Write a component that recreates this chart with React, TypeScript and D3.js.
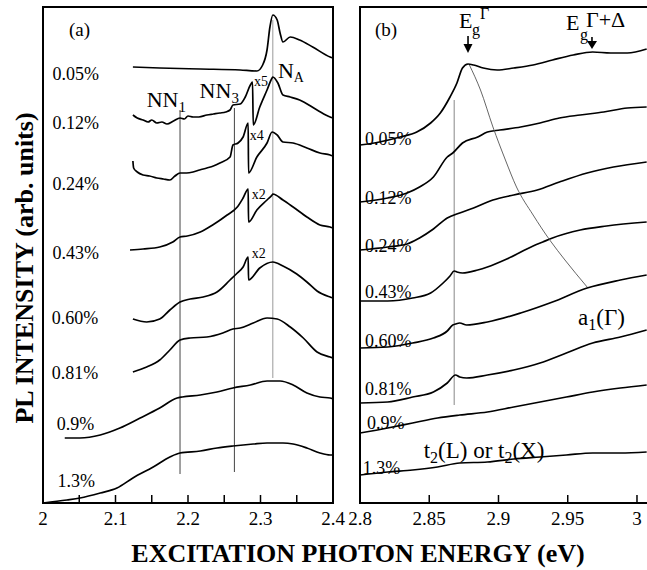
import React from 'react';
import * as d3 from 'd3';

const W = 647;
const H = 570;
const FONT = '"Liberation Serif", "Times New Roman", serif';

type Pt = [number, number];

// ---------- Panel (a): 2.0 - 2.4 eV ----------
const ticksA = [2.05, 2.1, 2.15, 2.2, 2.25, 2.3, 2.35];
const tickLabelsA = [2, 2.1, 2.2, 2.3, 2.4];
const labelsA = ['0.05%', '0.12%', '0.24%', '0.43%', '0.60%', '0.81%', '0.9%', '1.3%'];

const a005: Pt[] = [[2.124,436],[2.161,435],[2.217,434],[2.272,433],[2.295,432],[2.303,438],[2.309,453],[2.313,476],[2.317,488],[2.323,483],[2.327,470],[2.331,461],[2.341,466],[2.354,463],[2.372,456],[2.396,446],[2.400,445]];
const a012: Pt[] = [[2.124,388],[2.130,385],[2.138,383],[2.145,381],[2.150,383],[2.157,380],[2.164,381],[2.171,379],[2.180,382],[2.189,385],[2.195,384],[2.200,387],[2.207,386],[2.215,386],[2.226,388],[2.235,389],[2.244,390],[2.252,391],[2.258,393],[2.262,398],[2.272,399],[2.279,406],[2.286,418],[2.289,421],[2.290,378],[2.299,396],[2.309,413],[2.316,425],[2.317,426],[2.324,420],[2.331,408],[2.341,406],[2.354,403],[2.378,393],[2.396,386],[2.400,385]];
const a024: Pt[] = [[2.124,342],[2.125,335],[2.130,331],[2.138,328],[2.147,327],[2.157,325],[2.166,324],[2.175,323],[2.182,327],[2.189,330],[2.198,330],[2.207,331],[2.216,333],[2.226,335],[2.235,337],[2.244,340],[2.258,346],[2.262,358],[2.269,360],[2.276,366],[2.283,380],[2.2835,330],[2.295,346],[2.309,360],[2.316,371],[2.323,368],[2.331,361],[2.345,360],[2.364,355],[2.382,350],[2.396,348],[2.400,347]];
const a043: Pt[] = [[2.120,253],[2.138,254],[2.161,256],[2.179,261],[2.189,266],[2.199,267],[2.217,271],[2.234,278],[2.254,288],[2.268,296],[2.276,305],[2.283,314],[2.2835,281],[2.295,293],[2.309,303],[2.316,308],[2.317,309],[2.331,303],[2.345,296],[2.364,286],[2.382,278],[2.396,276],[2.400,275]];
const a060: Pt[] = [[2.124,184],[2.143,181],[2.161,184],[2.175,193],[2.189,201],[2.203,204],[2.221,206],[2.240,211],[2.258,223],[2.268,230],[2.276,236],[2.283,246],[2.2835,223],[2.299,235],[2.317,241],[2.331,237],[2.350,229],[2.364,221],[2.378,212],[2.396,206],[2.400,205]];
const a081: Pt[] = [[2.124,131],[2.143,136],[2.161,143],[2.175,153],[2.189,163],[2.203,165],[2.226,166],[2.248,170],[2.262,174],[2.272,175],[2.290,180],[2.309,185],[2.323,184],[2.341,176],[2.359,165],[2.378,151],[2.396,146],[2.400,145]];
const a09: Pt[] = [[2.030,65],[2.051,65],[2.079,68],[2.106,75],[2.134,85],[2.161,95],[2.185,105],[2.192,106],[2.217,108],[2.240,111],[2.262,115],[2.286,118],[2.309,122],[2.327,122],[2.345,118],[2.364,110],[2.382,106],[2.396,105],[2.400,104]];
const a13: Pt[] = [[2.000,0],[2.033,3],[2.051,5],[2.079,10],[2.102,15],[2.124,25],[2.152,36],[2.175,46],[2.189,50],[2.217,52],[2.240,55],[2.262,57],[2.290,59],[2.309,60],[2.331,60],[2.345,59],[2.364,55],[2.382,50],[2.396,48],[2.400,48]];
const seriesA = [a005, a012, a024, a043, a060, a081, a09, a13];
// label anchor: [energy, intensity]
const labelPosA: Pt[] = [[2.013,429],[2.013,380],[2.013,319],[2.013,250],[2.012,185],[2.012,130],[2.019,79],[2.020,22]];

// ---------- Panel (b): 2.8 - 3.0 eV ----------
const ticksB = [2.85, 2.9, 2.95, 3.0];
const tickLabelsB = ['2.8', '2.85', '2.9', '2.95', '3'];
const tickLabelValsB = [2.8, 2.85, 2.9, 2.95, 3.0];
const labelsB = ['0.05%', '0.12%', '0.24%', '0.43%', '0.60%', '0.81%', '0.9%', '1.3%'];

const b005: Pt[] = [[2.800,358],[2.814,361],[2.829,366],[2.841,371],[2.851,380],[2.858,390],[2.865,406],[2.870,420],[2.874,435],[2.878,439],[2.882,438],[2.889,435],[2.899,433],[2.911,435],[2.925,438],[2.939,443],[2.954,448],[2.968,451],[2.981,450],[2.993,450],[3.007,454]];
const b012: Pt[] = [[2.800,301],[2.820,305],[2.834,310],[2.843,316],[2.853,326],[2.863,346],[2.867,350],[2.874,360],[2.885,366],[2.892,371],[2.901,373],[2.916,376],[2.930,380],[2.944,385],[2.959,388],[2.976,391],[2.993,395],[3.007,396]];
const b024: Pt[] = [[2.800,253],[2.820,256],[2.834,259],[2.843,265],[2.853,274],[2.863,285],[2.872,290],[2.882,295],[2.896,303],[2.911,308],[2.928,313],[2.944,321],[2.964,330],[2.983,336],[3.007,341]];
const b043: Pt[] = [[2.800,202],[2.820,202],[2.838,205],[2.851,210],[2.860,220],[2.865,227],[2.868,232],[2.870,231],[2.874,230],[2.885,233],[2.892,236],[2.906,244],[2.925,257],[2.932,261],[2.939,265],[2.959,273],[2.978,277],[3.007,281]];
const b060: Pt[] = [[2.800,155],[2.820,156],[2.838,160],[2.853,165],[2.863,172],[2.867,178],[2.869,179],[2.872,180],[2.877,178],[2.892,181],[2.916,190],[2.939,201],[2.964,215],[2.988,223],[3.007,228]];
const b081: Pt[] = [[2.800,100],[2.820,101],[2.838,106],[2.853,111],[2.863,120],[2.869,128],[2.872,126],[2.877,125],[2.892,128],[2.911,133],[2.930,140],[2.949,150],[2.968,160],[2.988,166],[3.007,173]];
const b09: Pt[] = [[2.800,70],[2.820,75],[2.838,80],[2.856,85],[2.872,88],[2.892,91],[2.911,96],[2.930,101],[2.949,106],[2.968,111],[2.988,115],[3.007,118]];
const b13: Pt[] = [[2.800,28],[2.820,31],[2.838,33],[2.856,36],[2.872,40],[2.892,41],[2.911,44],[2.930,46],[2.949,48],[2.968,50],[2.988,50],[3.007,51]];
const seriesB = [b005, b012, b024, b043, b060, b081, b09, b13];
const labelPosB: Pt[] = [[2.8036,364],[2.8036,305],[2.8036,257],[2.8036,211],[2.8036,162],[2.8036,114],[2.805,80],[2.802,35]];

// a1(Gamma) trace
const a1Trace: Pt[] = [[2.879,438],[2.887,413],[2.896,376],[2.905,343],[2.913,316],[2.925,288],[2.937,263],[2.948,243],[2.964,216]];

// vertical guide lines: [energy, intensity top, intensity bottom, colour]
const guidesA: [number, number, number, string][] = [[2.189,393,29,'#444'],[2.264,395,31,'#444'],[2.317,483,125,'#999']];
const guidesB: [number, number, number, string][] = [[2.868,403,98,'#888']];

const xA = d3.scaleLinear().domain([2.0, 2.4]).range([43, 333]);
const xB = d3.scaleLinear().domain([2.8, 3.0094]).range([360, 650]);
const y = d3.scaleLinear().domain([0, 496]).range([503, 7]);

function Panel({ x, series, labels, labelPos, ticks, tickVals, tickText, guides }: any) {
  const line = d3.line<Pt>().x(d => x(d[0])).y(d => y(d[1])).curve(d3.curveMonotoneX);
  const [x0, x1] = x.range();
  return (
    <g>
      {guides.map((g: any, i: number) => (
        <line key={'g' + i} x1={x(g[0])} x2={x(g[0])} y1={y(g[1])} y2={y(g[2])} stroke={g[3]} strokeWidth={1} />
      ))}
      {series.map((s: Pt[], i: number) => (
        <path key={'s' + i} d={line(s) || ''} fill="none" stroke="#000" strokeWidth={1.7} />
      ))}
      {labels.map((l: string, i: number) => (
        <text key={'l' + i} x={x(labelPos[i][0])} y={y(labelPos[i][1])} dy="0.35em" fontSize={18} fontFamily={FONT}>{l}</text>
      ))}
      <rect x={x0} y={y(496)} width={x1 - x0} height={y(0) - y(496)} fill="none" stroke="#000" strokeWidth={2} />
      {ticks.map((t: number, i: number) => (
        <line key={'t' + i} x1={x(t)} x2={x(t)} y1={y(0)} y2={y(0) - 8} stroke="#000" strokeWidth={1.5} />
      ))}
      {tickVals.map((t: number, i: number) => (
        <text key={'tl' + i} x={x(t)} y={y(0) + 22} textAnchor="middle" fontSize={19} fontFamily={FONT}>{tickText[i]}</text>
      ))}
    </g>
  );
}

export default function App() {
  const lineA1 = d3.line<Pt>().x(d => xB(d[0])).y(d => y(d[1])).curve(d3.curveMonotoneX);
  const egX = xB(2.878);
  const egdX = xB(2.9675);
  return (
    <svg width={W} height={H} style={{ display: 'block', position: 'absolute', left: 0, top: 0, background: '#fff' }}>
      <rect width={W} height={H} fill="#fff" />
      <Panel x={xA} series={seriesA} labels={labelsA} labelPos={labelPosA} ticks={ticksA}
        tickVals={tickLabelsA} tickText={tickLabelsA.map(String)} guides={guidesA} />
      <Panel x={xB} series={seriesB} labels={labelsB} labelPos={labelPosB} ticks={ticksB}
        tickVals={tickLabelValsB} tickText={tickLabelsB} guides={guidesB} />
      <path d={lineA1(a1Trace) || ''} fill="none" stroke="#555" strokeWidth={0.9} />

      {/* panel tags */}
      <text x={69} y={36} fontSize={19} fontFamily={FONT}>(a)</text>
      <text x={375} y={36} fontSize={19} fontFamily={FONT}>(b)</text>

      {/* panel a annotations */}
      <text x={xA(2.143)} y={107} fontSize={22} fontFamily={FONT}>NN<tspan fontSize={15} dy={5}>1</tspan></text>
      <text x={xA(2.216)} y={98} fontSize={22} fontFamily={FONT}>NN<tspan fontSize={15} dy={5}>3</tspan></text>
      <text x={xA(2.324)} y={78} fontSize={22} fontFamily={FONT}>N<tspan fontSize={14} dy={4}>A</tspan></text>
      <text x={xA(2.291)} y={86} fontSize={14} fontFamily={FONT}>x5</text>
      <text x={xA(2.285)} y={140} fontSize={14} fontFamily={FONT}>x4</text>
      <text x={xA(2.288)} y={199} fontSize={14} fontFamily={FONT}>x2</text>
      <text x={xA(2.288)} y={258} fontSize={14} fontFamily={FONT}>x2</text>

      {/* panel b annotations */}
      <text x={egX - 9} y={28} fontSize={22} fontFamily={FONT}>E</text>
      <text x={egX + 4} y={35} fontSize={16} fontFamily={FONT}>g</text>
      <text x={egX + 12} y={19} fontSize={16} fontFamily={FONT}>Γ</text>
      <line x1={egX} x2={egX} y1={36} y2={48} stroke="#000" strokeWidth={1.6} />
      <path d={`M${egX - 4.5},44 L${egX},53 L${egX + 4.5},44 Z`} fill="#000" />

      <text x={egdX - 26} y={30} fontSize={22} fontFamily={FONT}>E</text>
      <text x={egdX - 12} y={40} fontSize={16} fontFamily={FONT}>g</text>
      <text x={egdX - 6} y={27} fontSize={22} fontFamily={FONT}>Γ+Δ</text>
      <line x1={egdX} x2={egdX} y1={37} y2={44} stroke="#000" strokeWidth={1.6} />
      <path d={`M${egdX - 5},41 L${egdX},49 L${egdX + 5},41 Z`} fill="#000" />

      <text x={xB(2.9575)} y={325} fontSize={23} fontFamily={FONT}>a<tspan fontSize={16} dy={5}>1</tspan><tspan dy={-5}>(Γ)</tspan></text>
      <text x={xB(2.846)} y={458} fontSize={23} fontFamily={FONT}>t<tspan fontSize={16} dy={5}>2</tspan><tspan dy={-5}>(L) or t</tspan><tspan fontSize={16} dy={5}>2</tspan><tspan dy={-5}>(X)</tspan></text>

      {/* axis titles */}
      <text x={358} y={562} textAnchor="middle" fontSize={26} fontWeight="bold" fontFamily={FONT}>EXCITATION PHOTON ENERGY (eV)</text>
      <text transform="translate(33,268) rotate(-90)" textAnchor="middle" fontSize={26} fontWeight="bold" fontFamily={FONT}>PL INTENSITY (arb. units)</text>
    </svg>
  );
}
